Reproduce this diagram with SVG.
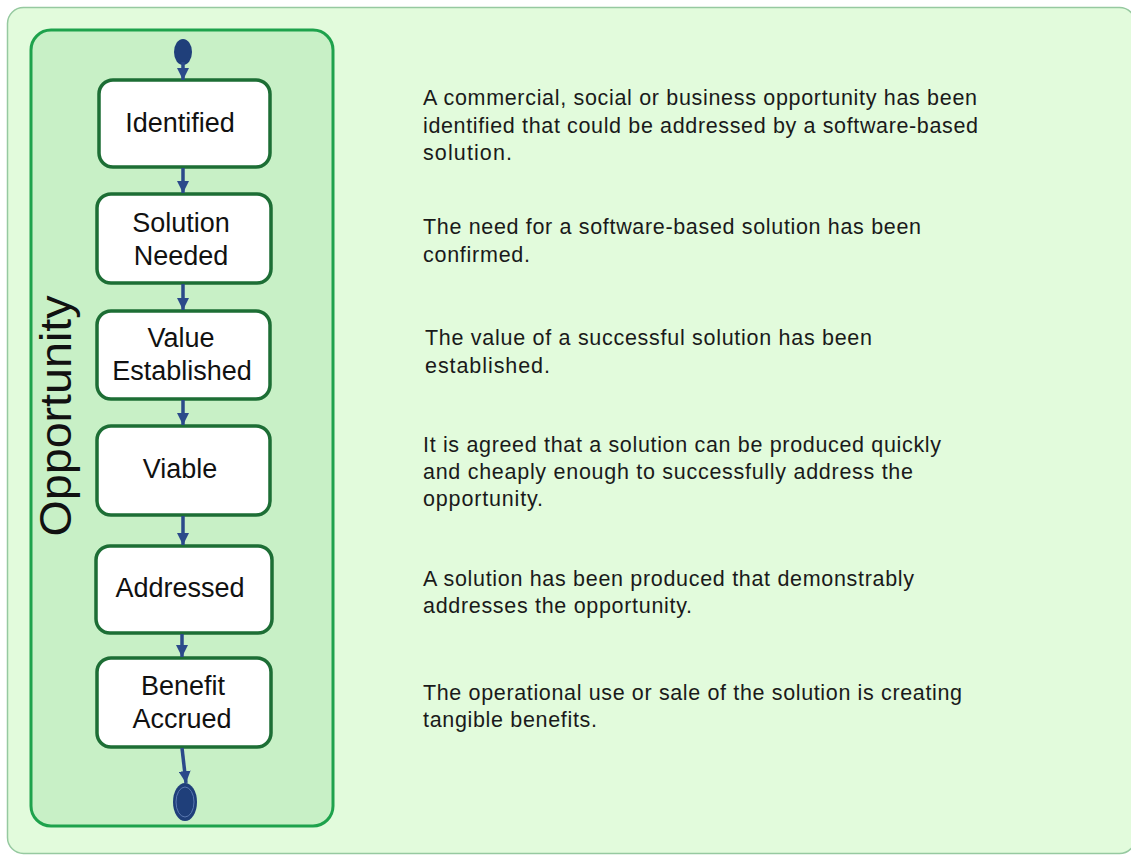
<svg xmlns="http://www.w3.org/2000/svg" width="1131" height="857" viewBox="0 0 1131 857">
<defs>
<marker id="ah" markerUnits="userSpaceOnUse" markerWidth="12" markerHeight="12" viewBox="0 0 10 10" refX="10" refY="5" orient="auto">
<path d="M0,0 L10,5 L0,10 z" fill="#2b4a8a"/>
</marker>
</defs>
<style>
.node rect{fill:#ffffff;stroke:#1d6e35;stroke-width:3.5}
.lbl{font-family:"Liberation Sans",Arial,sans-serif;font-size:27px;fill:#111;text-anchor:middle}
.desc{font-family:"Liberation Sans",Arial,sans-serif;font-size:21.5px;fill:#1a1a1a}
.conn line{stroke:#2b4a8a;stroke-width:3.5;marker-end:url(#ah)}
</style>
<rect width="1131" height="857" fill="#ffffff"/>
<g id="frame">
<rect x="7.5" y="7.5" width="1128" height="846" rx="16" fill="#e2fbdc" stroke="#96c9a0" stroke-width="1.5"/>
</g>
<g id="swimlane">
<rect x="31" y="30" width="302" height="796" rx="20" fill="#c8f0c6" stroke="#1ea24c" stroke-width="3"/>
<text transform="translate(71,416) rotate(-90)" font-family="Liberation Sans, Arial, sans-serif" font-size="44" fill="#111" text-anchor="middle" textLength="241" lengthAdjust="spacingAndGlyphs">Opportunity</text>
</g>
<g id="start">
<ellipse cx="183" cy="52" rx="9" ry="13" fill="#1f3f7a"/>
</g>
<g id="identified" class="node">
<rect x="99" y="80" width="171" height="87" rx="14"/>
<text class="lbl" x="180" y="132">Identified</text>
</g>
<g id="solution-needed" class="node">
<rect x="97" y="194" width="174" height="89" rx="14"/>
<text class="lbl" x="181" y="232">Solution</text>
<text class="lbl" x="181" y="265">Needed</text>
</g>
<g id="value-established" class="node">
<rect x="97" y="311" width="173" height="88" rx="14"/>
<text class="lbl" x="181" y="347">Value</text>
<text class="lbl" x="182" y="380">Established</text>
</g>
<g id="viable" class="node">
<rect x="97" y="426" width="173" height="89" rx="14"/>
<text class="lbl" x="180" y="478">Viable</text>
</g>
<g id="addressed" class="node">
<rect x="96" y="546" width="176" height="87" rx="14"/>
<text class="lbl" x="180" y="597">Addressed</text>
</g>
<g id="benefit-accrued" class="node">
<rect x="97" y="658" width="174" height="89" rx="14"/>
<text class="lbl" x="183" y="695">Benefit</text>
<text class="lbl" x="182" y="728">Accrued</text>
</g>
<g id="end">
<ellipse cx="185" cy="802" rx="12" ry="19" fill="#1f3f7a"/>
<ellipse cx="185" cy="802" rx="9" ry="15" fill="none" stroke="#5a78b0" stroke-width="1"/>
</g>
<g id="connectors" class="conn">
<line x1="183" y1="62" x2="183" y2="80"/>
<line x1="183" y1="168" x2="183" y2="193"/>
<line x1="183" y1="284" x2="183" y2="310"/>
<line x1="183" y1="400" x2="183" y2="425"/>
<line x1="183" y1="516" x2="183" y2="545"/>
<line x1="182" y1="634" x2="182" y2="657"/>
<line x1="182" y1="748" x2="186" y2="783"/>
</g>
<g id="descriptions">
<text class="desc" x="423" y="105" textLength="554" lengthAdjust="spacing">A commercial, social or business opportunity has been</text>
<text class="desc" x="423" y="133" textLength="555" lengthAdjust="spacing">identified that could be addressed by a software-based</text>
<text class="desc" x="423" y="160" textLength="89" lengthAdjust="spacing">solution.</text>
<text class="desc" x="423" y="234" textLength="498" lengthAdjust="spacing">The need for a software-based solution has been</text>
<text class="desc" x="423" y="262" textLength="107" lengthAdjust="spacing">confirmed.</text>
<text class="desc" x="425" y="345" textLength="447" lengthAdjust="spacing">The value of a successful solution has been</text>
<text class="desc" x="425" y="373" textLength="125" lengthAdjust="spacing">established.</text>
<text class="desc" x="423" y="452" textLength="518" lengthAdjust="spacing">It is agreed that a solution can be produced quickly</text>
<text class="desc" x="423" y="479" textLength="490" lengthAdjust="spacing">and cheaply enough to successfully address the</text>
<text class="desc" x="423" y="506" textLength="120" lengthAdjust="spacing">opportunity.</text>
<text class="desc" x="423" y="586" textLength="491" lengthAdjust="spacing">A solution has been produced that demonstrably</text>
<text class="desc" x="423" y="613" textLength="269" lengthAdjust="spacing">addresses the opportunity.</text>
<text class="desc" x="423" y="700" textLength="539" lengthAdjust="spacing">The operational use or sale of the solution is creating</text>
<text class="desc" x="423" y="727" textLength="174" lengthAdjust="spacing">tangible benefits.</text>
</g>
</svg>
